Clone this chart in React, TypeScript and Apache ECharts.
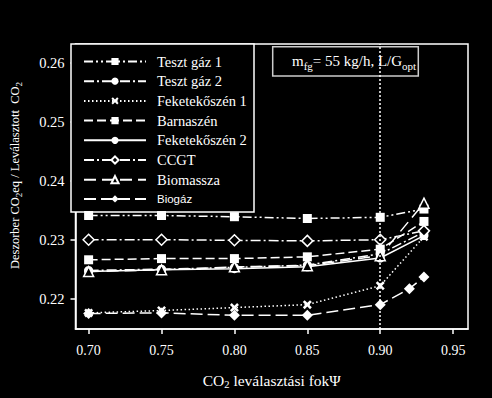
import React, { useEffect, useRef } from "react";
import * as echarts from "echarts";

const xMain = [0.7, 0.75, 0.8, 0.85, 0.9, 0.93];
const xBiogaz = [0.7, 0.75, 0.8, 0.85, 0.9, 0.92, 0.93];

const tesztGaz1 = [0.2341, 0.2341, 0.2339, 0.2336, 0.2338, 0.2352];
const tesztGaz2 = [0.2248, 0.225, 0.2253, 0.2257, 0.2276, 0.2313];
const feketekoszen1 = [0.2176, 0.218, 0.2185, 0.219, 0.2222, 0.2305];
const barnaszen = [0.2266, 0.2268, 0.2268, 0.2271, 0.2284, 0.2331];
const feketekoszen2 = [0.2246, 0.2249, 0.2251, 0.2254, 0.2269, 0.2307];
const ccgt = [0.23, 0.23, 0.2299, 0.2298, 0.23, 0.2315];
const biomassza = [0.2246, 0.2249, 0.2254, 0.2256, 0.2273, 0.2362];
const biogaz = [0.2175, 0.2176, 0.2172, 0.2172, 0.219, 0.2217, 0.2237];

const xTicks = [0.7, 0.75, 0.8, 0.85, 0.9, 0.95];
const yTicks = [0.22, 0.23, 0.24, 0.25, 0.26];

const SERIF = "Liberation Serif";
const X_SYMBOL =
  "path://M0,2 L2,0 L5,3 L8,0 L10,2 L7,5 L10,8 L8,10 L5,7 L2,10 L0,8 L3,5 Z";

const pair = (xs: number[], ys: number[]) => xs.map((x, i) => [x, ys[i]]);

const makeRich = (size: number, sub: number, lh: number) => ({
  n: { fontFamily: SERIF, fontSize: size, color: "#fff", lineHeight: lh },
  s: {
    fontFamily: SERIF,
    fontSize: sub,
    color: "#fff",
    lineHeight: sub,
    verticalAlign: "bottom",
  },
});

export default function App() {
  const ref = useRef<HTMLDivElement>(null);
  useEffect(() => {
    document.body.style.margin = "0";
    document.body.style.background = "#000";
    const chart = echarts.init(ref.current!, undefined, { renderer: "svg" });
    const filled = { color: "#fff" };
    const open = { color: "#000", borderColor: "#fff", borderWidth: 1.5 };
    const mk = (
      name: string,
      data: number[][],
      symbol: string,
      dash: any,
      itemStyle: any,
      size = 9
    ) => ({
      name,
      type: "line",
      data,
      symbol,
      symbolSize: size,
      showSymbol: true,
      lineStyle: { color: "#fff", width: 1.5, type: dash },
      itemStyle,
      z: 3,
    });
    const series: any[] = [
      mk("Teszt gáz 1", pair(xMain, tesztGaz1), "rect", [9, 3, 2, 3, 2, 3], filled),
      mk("Teszt gáz 2", pair(xMain, tesztGaz2), "circle", [10, 3, 2, 3], filled),
      mk("Feketekőszén 1", pair(xMain, feketekoszen1), X_SYMBOL, [1.5, 2.5], filled, 9),
      mk("Barnaszén", pair(xMain, barnaszen), "rect", [9, 4], filled),
      mk("Feketekőszén 2", pair(xMain, feketekoszen2), "circle", "solid", filled),
      mk("CCGT", pair(xMain, ccgt), "diamond", [10, 3, 2, 3], open, 11),
      mk("Biomassza", pair(xMain, biomassza), "triangle", [12, 6], open, 10),
      mk("Biogáz", pair(xBiogaz, biogaz), "diamond", [12, 5], filled, 11),
    ];
    series[0].markLine = {
      silent: true,
      symbol: "none",
      label: { show: false },
      lineStyle: { color: "#fff", type: [2, 2], width: 1.5 },
      data: [{ xAxis: 0.9 }],
    };
    chart.setOption({
      animation: false,
      backgroundColor: "#000",
      grid: {
        left: 71,
        top: 44,
        right: 24,
        bottom: 69,
        show: true,
        borderColor: "#fff",
        borderWidth: 1.5,
        backgroundColor: "transparent",
      },
      xAxis: {
        type: "value",
        min: 0.691,
        max: 0.9602,
        axisLine: { show: true, lineStyle: { color: "#fff", width: 1.5 } },
        axisTick: {
          show: true,
          inside: false,
          length: 5,
          customValues: xTicks,
          lineStyle: { color: "#fff", width: 1.5 },
        },
        axisLabel: {
          customValues: xTicks,
          color: "#fff",
          fontFamily: SERIF,
          fontSize: 14,
          margin: 14,
          formatter: (v: number) => v.toFixed(2),
        },
        splitLine: { show: false },
        name: "{n|CO}{s|2}{n| leválasztási fokΨ}",
        nameLocation: "middle",
        nameGap: 41,
        nameTextStyle: { rich: makeRich(15.5, 10.5, 20) },
      },
      yAxis: {
        type: "value",
        min: 0.21487,
        max: 0.26317,
        axisLine: { show: true, lineStyle: { color: "#fff", width: 1.5 } },
        axisTick: {
          show: true,
          inside: false,
          length: 5,
          customValues: yTicks,
          lineStyle: { color: "#fff", width: 1.5 },
        },
        axisLabel: {
          customValues: yTicks,
          color: "#fff",
          fontFamily: SERIF,
          fontSize: 14.5,
          margin: 11,
          formatter: (v: number) => v.toFixed(2),
        },
        splitLine: { show: false },
        name: "{n|Deszorber CO}{s|2}{n|eq / Leválasztott  CO}{s|2}",
        nameLocation: "middle",
        nameRotate: 90,
        nameGap: 52,
        nameTextStyle: { rich: makeRich(12.5, 9, 18), padding: [0, 0, 0, 22] },
      },
      legend: {
        orient: "vertical",
        left: 78,
        top: 49,
        itemWidth: 62,
        itemHeight: 9,
        itemGap: 4.7,
        selectedMode: false,
        textStyle: {
          color: "#fff",
          fontFamily: SERIF,
          fontSize: 14.5,
          lineHeight: 14,
          padding: [0, 0, 0, 6],
        },
        data: [
          "Teszt gáz 1",
          "Teszt gáz 2",
          "Feketekőszén 1",
          "Barnaszén",
          "Feketekőszén 2",
          "CCGT",
          "Biomassza",
          {
            name: "Biogáz",
            textStyle: {
              fontFamily: "Liberation Sans",
              fontSize: 11.5,
              color: "#fff",
              padding: [0, 0, 0, 6],
            },
          },
        ],
      },
      graphic: [
        {
          type: "rect",
          shape: { x: 71, y: 44, width: 183, height: 168 },
          style: { fill: "#000", stroke: "#fff", lineWidth: 1.5 },
          z: 1,
          silent: true,
        },
        {
          type: "rect",
          shape: { x: 272.7, y: 46.7, width: 145.6, height: 29.3 },
          style: { fill: "#000", stroke: "#ccc", lineWidth: 1.5 },
          z: 1,
          silent: true,
        },
        {
          type: "text",
          x: 292,
          y: 61,
          z: 2,
          silent: true,
          style: {
            text: "{n|m}{s|fg}{n|= 55 kg/h, L/G}{s|opt}",
            rich: makeRich(15, 11, 20),
            verticalAlign: "middle",
            fill: "#fff",
          },
        },
      ],
      series,
    });
    return () => chart.dispose();
  }, []);
  return <div ref={ref} style={{ width: 492, height: 398 }} />;
}
